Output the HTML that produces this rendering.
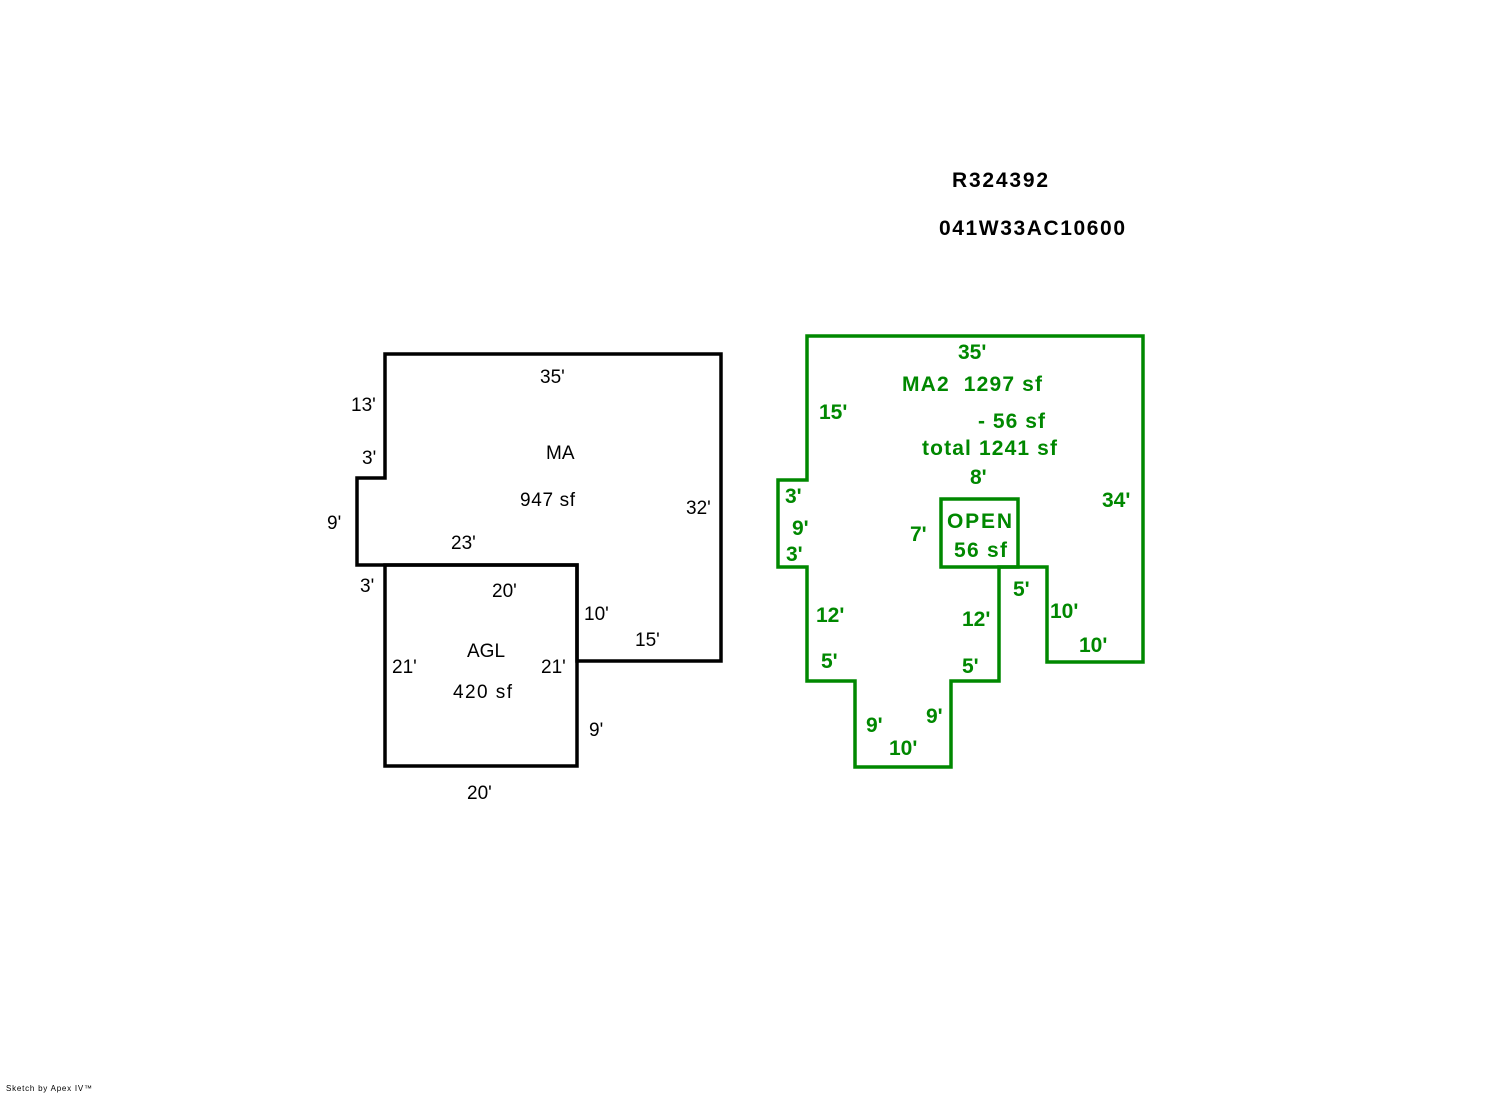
<!DOCTYPE html>
<html>
<head>
<meta charset="utf-8">
<style>
  html, body { margin: 0; padding: 0; background: #ffffff; }
  body { width: 1492px; height: 1094px; overflow: hidden; }
  svg { display: block; }
  .b { font-family: "Liberation Sans", Arial, sans-serif; font-size: 19px; fill: #000; }
  .g { font-family: "Liberation Sans", Arial, sans-serif; font-size: 21px; font-weight: bold; fill: #008800; }
  .h { font-family: "Liberation Sans", Arial, sans-serif; font-size: 21px; font-weight: bold; fill: #000; }
  .s { font-family: "Liberation Sans", Arial, sans-serif; font-size: 8px; fill: #000; }
</style>
</head>
<body>
<svg width="1492" height="1094" viewBox="0 0 1492 1094" xmlns="http://www.w3.org/2000/svg">
  <rect x="0" y="0" width="1492" height="1094" fill="#fff"/>

  <!-- Header -->
  <text class="h" x="952" y="187" textLength="96" lengthAdjust="spacing">R324392</text>
  <text class="h" x="939" y="235" textLength="186" lengthAdjust="spacing">041W33AC10600</text>

  <!-- Left (black) sketch -->
  <g fill="none" stroke="#000" stroke-width="3.5" stroke-linejoin="miter">
    <path d="M385,354 H721 V661 H577 V565 H357 V478 H385 Z"/>
    <rect x="385" y="565" width="192" height="201"/>
  </g>
  <text class="b" x="540" y="383">35'</text>
  <text class="b" x="351" y="411">13'</text>
  <text class="b" x="362" y="464">3'</text>
  <text class="b" x="546" y="459">MA</text>
  <text class="b" x="520" y="506" textLength="55" lengthAdjust="spacing">947 sf</text>
  <text class="b" x="327" y="529">9'</text>
  <text class="b" x="686" y="514">32'</text>
  <text class="b" x="451" y="549">23'</text>
  <text class="b" x="360" y="592">3'</text>
  <text class="b" x="492" y="597">20'</text>
  <text class="b" x="584" y="620">10'</text>
  <text class="b" x="635" y="646">15'</text>
  <text class="b" x="467" y="657">AGL</text>
  <text class="b" x="392" y="673">21'</text>
  <text class="b" x="541" y="673">21'</text>
  <text class="b" x="453" y="698" textLength="59" lengthAdjust="spacing">420 sf</text>
  <text class="b" x="589" y="736">9'</text>
  <text class="b" x="467" y="799">20'</text>

  <!-- Right (green) sketch -->
  <g fill="none" stroke="#008800" stroke-width="3.5" stroke-linejoin="miter">
    <path d="M807,336 H1143 V662 H1047 V567 H999 V681 H951 V767 H855 V681 H807 V567 H778 V480 H807 Z"/>
    <rect x="941" y="499" width="77" height="68"/>
  </g>
  <text class="g" x="958" y="359">35'</text>
  <text class="g" x="902" y="391" textLength="140" lengthAdjust="spacing" xml:space="preserve">MA2  1297 sf</text>
  <text class="g" x="819" y="419">15'</text>
  <text class="g" x="978" y="428" textLength="67" lengthAdjust="spacing" xml:space="preserve">- 56 sf</text>
  <text class="g" x="922" y="455" textLength="135" lengthAdjust="spacing">total 1241 sf</text>
  <text class="g" x="970" y="484">8'</text>
  <text class="g" x="1102" y="507">34'</text>
  <text class="g" x="785" y="503">3'</text>
  <text class="g" x="792" y="535">9'</text>
  <text class="g" x="786" y="561">3'</text>
  <text class="g" x="910" y="541">7'</text>
  <text class="g" x="947" y="528" textLength="65" lengthAdjust="spacing">OPEN</text>
  <text class="g" x="954" y="557" textLength="53" lengthAdjust="spacing">56 sf</text>
  <text class="g" x="1013" y="596">5'</text>
  <text class="g" x="816" y="622">12'</text>
  <text class="g" x="962" y="626">12'</text>
  <text class="g" x="1050" y="618">10'</text>
  <text class="g" x="1079" y="652">10'</text>
  <text class="g" x="821" y="668">5'</text>
  <text class="g" x="962" y="673">5'</text>
  <text class="g" x="866" y="732">9'</text>
  <text class="g" x="926" y="723">9'</text>
  <text class="g" x="889" y="755">10'</text>

  <!-- Footer -->
  <text class="s" x="6" y="1091" textLength="86" lengthAdjust="spacing">Sketch by Apex IV™</text>
</svg>
</body>
</html>
